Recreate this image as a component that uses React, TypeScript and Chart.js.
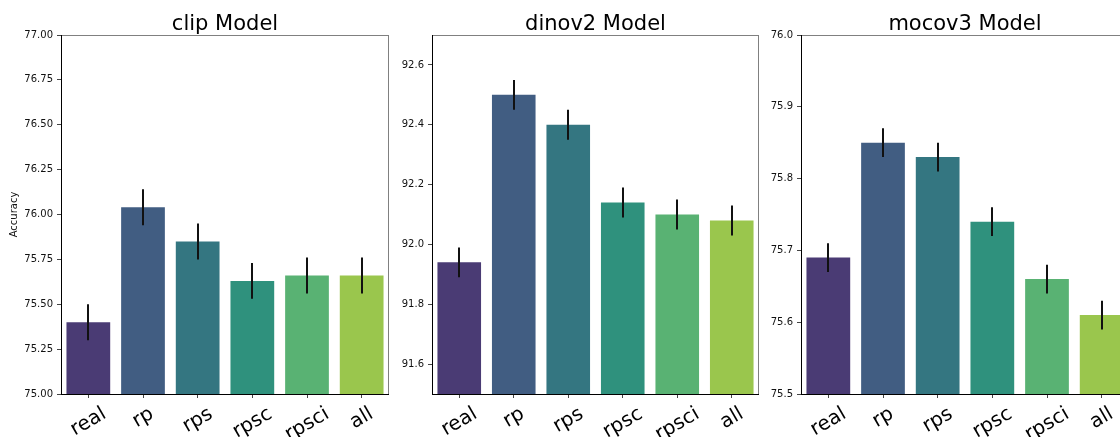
import React, { useEffect, useRef } from 'react';
import { Chart, registerables } from 'chart.js';

Chart.register(...registerables);

// ---- data ----
const categories = ['real', 'rp', 'rps', 'rpsc', 'rpsci', 'all'];

const clipValues = [75.4, 76.04, 75.85, 75.63, 75.66, 75.66];
const clipErrors = [0.1, 0.1, 0.1, 0.1, 0.1, 0.1];
const clipTicks = [75.0, 75.25, 75.5, 75.75, 76.0, 76.25, 76.5, 76.75, 77.0];

const dinov2Values = [91.94, 92.5, 92.4, 92.14, 92.1, 92.08];
const dinov2Errors = [0.05, 0.05, 0.05, 0.05, 0.05, 0.05];
const dinov2Ticks = [91.6, 91.8, 92.0, 92.2, 92.4, 92.6];

const mocov3Values = [75.69, 75.85, 75.83, 75.74, 75.66, 75.61];
const mocov3Errors = [0.02, 0.02, 0.02, 0.02, 0.02, 0.02];
const mocov3Ticks = [75.5, 75.6, 75.7, 75.8, 75.9, 76.0];

// ---- styles ----
const barColors = ['#4a3b74', '#415d82', '#347681', '#2f917d', '#59b273', '#9ac64d'];
const FONT = "'DejaVu Sans', sans-serif";
const H = 437;

type Panel = {
  title: string;
  values: number[];
  errors: number[];
  ticks: number[];
  min: number;
  max: number;
  decimals: number;
  yTitle: boolean;
  left: number;
  width: number;
  yWidth: number;
  padRight: number;
};

const panels: Panel[] = [
  { title: 'clip Model', values: clipValues, errors: clipErrors, ticks: clipTicks, min: 75, max: 77, decimals: 2, yTitle: true, left: 0, width: 400, yWidth: 61, padRight: 11 },
  { title: 'dinov2 Model', values: dinov2Values, errors: dinov2Errors, ticks: dinov2Ticks, min: 91.5, max: 92.7, decimals: 1, yTitle: false, left: 400, width: 370, yWidth: 32, padRight: 11 },
  { title: 'mocov3 Model', values: mocov3Values, errors: mocov3Errors, ticks: mocov3Ticks, min: 75.5, max: 76.0, decimals: 1, yTitle: false, left: 770, width: 370, yWidth: 31, padRight: 11 },
];

function PanelChart({ p }: { p: Panel }) {
  const ref = useRef<HTMLCanvasElement>(null);
  useEffect(() => {
    if (!ref.current) return;
    const overlay = {
      id: 'overlay',
      afterDatasetsDraw(chart: any) {
        const ctx = chart.ctx;
        const xs = chart.scales.x;
        const ys = chart.scales.y;
        ctx.save();
        ctx.strokeStyle = '#111';
        ctx.lineWidth = 2;
        p.values.forEach((v, i) => {
          const x = Math.round(xs.getPixelForValue(i));
          ctx.beginPath();
          ctx.moveTo(x, ys.getPixelForValue(v - p.errors[i]));
          ctx.lineTo(x, ys.getPixelForValue(v + p.errors[i]));
          ctx.stroke();
        });
        ctx.restore();
      },
      afterDraw(chart: any) {
        const ctx = chart.ctx;
        const a = chart.chartArea;
        const xs = chart.scales.x;
        ctx.save();
        // spines
        ctx.lineWidth = 1;
        ctx.strokeStyle = '#808080';
        ctx.beginPath();
        ctx.moveTo(a.left, a.top + 0.5);
        ctx.lineTo(a.right, a.top + 0.5);
        ctx.moveTo(a.right - 0.5, a.top);
        ctx.lineTo(a.right - 0.5, a.bottom + 1);
        ctx.stroke();
        ctx.strokeStyle = '#000';
        ctx.beginPath();
        ctx.moveTo(a.left + 0.5, a.top);
        ctx.lineTo(a.left + 0.5, a.bottom + 1);
        ctx.moveTo(a.left, a.bottom + 0.5);
        ctx.lineTo(a.right, a.bottom + 0.5);
        ctx.stroke();
        // title
        ctx.fillStyle = '#000';
        ctx.font = `21px ${FONT}`;
        ctx.textAlign = 'center';
        ctx.textBaseline = 'alphabetic';
        ctx.fillText(p.title, (a.left + a.right) / 2, 29.5);
        // rotated x labels
        const fs = 19.8;
        ctx.font = `${fs}px ${FONT}`;
        const ang = (30 * Math.PI) / 180;
        const h = fs * 1.16;
        categories.forEach((c, i) => {
          const x = xs.getPixelForValue(i);
          const w = ctx.measureText(c).width;
          const bh = w * Math.sin(ang) + h * Math.cos(ang);
          const cy = a.bottom + 8.5 + bh / 2;
          ctx.save();
          ctx.translate(x, cy);
          ctx.rotate(-ang);
          ctx.textAlign = 'center';
          ctx.textBaseline = 'alphabetic';
          ctx.fillText(c, 0, fs * 0.27);
          ctx.restore();
        });
        ctx.restore();
      },
    };
    const chart = new Chart(ref.current, {
      type: 'bar',
      data: {
        labels: categories,
        datasets: [
          {
            data: p.values,
            backgroundColor: barColors,
            borderWidth: 0,
            barPercentage: 0.8,
            categoryPercentage: 1.0,
          },
        ],
      },
      options: {
        responsive: false,
        maintainAspectRatio: false,
        animation: false,
        devicePixelRatio: 1,
        layout: { padding: { left: 0, right: p.padRight, top: 35, bottom: 0 } },
        plugins: { legend: { display: false }, tooltip: { enabled: false }, title: { display: false } },
        scales: {
          x: {
            type: 'category',
            offset: true,
            border: { display: false },
            grid: { offset: false, drawOnChartArea: false, drawTicks: true, tickLength: 4, tickColor: '#444', tickWidth: 1 },
            ticks: { display: false },
            afterFit: (s: any) => {
              s.height = H - 394;
            },
          },
          y: {
            type: 'linear',
            min: p.min,
            max: p.max,
            border: { display: false },
            grid: { drawOnChartArea: false, drawTicks: true, tickLength: 4, tickColor: '#444', tickWidth: 1 },
            ticks: {
              padding: 4,
              color: '#111',
              font: { family: FONT, size: 10 },
              callback: (v: any) => Number(v).toFixed(p.decimals),
            },
            afterBuildTicks: (s: any) => {
              s.ticks = p.ticks.map((v) => ({ value: v }));
            },
            title: {
              display: p.yTitle,
              text: 'Accuracy',
              color: '#111',
              font: { family: FONT, size: 10 },
              padding: { top: 8.5, bottom: 0 },
            },
            afterFit: (s: any) => {
              s.width = p.yWidth;
            },
          },
        },
      },
      plugins: [overlay],
    } as any);
    return () => chart.destroy();
  }, [p]);
  return (
    <canvas
      ref={ref}
      width={p.width}
      height={H}
      style={{ position: 'absolute', left: p.left, top: 0, width: p.width, height: H }}
    />
  );
}

export default function App() {
  return (
    <div
      style={{
        position: 'fixed',
        left: 0,
        top: 0,
        width: 1120,
        height: H,
        overflow: 'hidden',
        background: '#fff',
      }}
    >
      {panels.map((p) => (
        <PanelChart key={p.title} p={p} />
      ))}
    </div>
  );
}
